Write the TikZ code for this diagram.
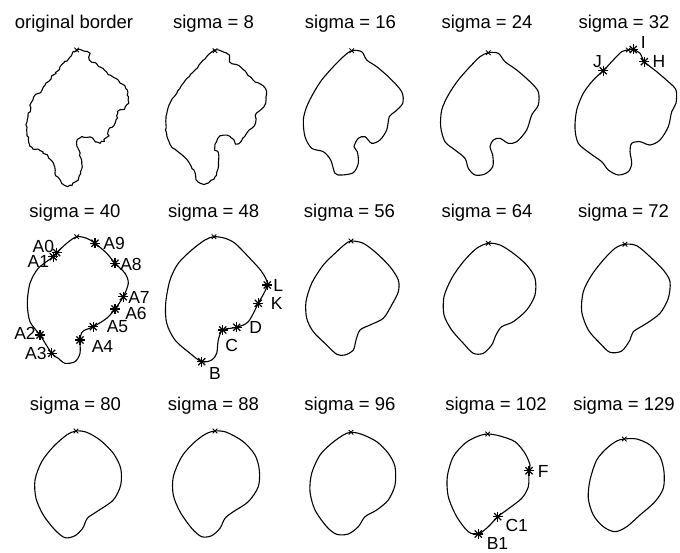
\documentclass[tikz,border=0pt]{standalone}
\usepackage{fontspec}
\setmainfont{Liberation Sans}
\usetikzlibrary{decorations.pathmorphing}
\begin{document}
\begin{tikzpicture}[x=1pt,y=-1pt,
 curve/.style={line width=1.1pt, line join=round},
 ttl/.style={anchor=base, inner sep=0pt, font=\fontsize{18.5}{20}\selectfont},
 lbl/.style={inner sep=0pt, text height=12.5pt, text depth=0pt, font=\fontsize{17.5}{19}\selectfont},
 astm/.style={inner sep=0pt, minimum size=12pt, path picture={\foreach \a in {0,45,90,135}{\draw[line width=1.25pt] (path picture bounding box.center) ++(\a:5pt) -- ++(\a+180:10pt);}}},
 xm/.style={inner sep=0pt, minimum size=8pt, path picture={\foreach \a in {45,135}{\draw[line width=0.9pt] (path picture bounding box.center) ++(\a:3.2pt) -- ++(\a+180:6.4pt);}}}
]
\useasboundingbox (0,0) rectangle (680,553);
\pgfmathsetseed{7}
% titles
\node[ttl] (t0) at (74,29) {original border};
\node[ttl] (t8) at (213.5,29) {sigma = 8};
\node[ttl] (t16) at (350.5,29) {sigma = 16};
\node[ttl] (t24) at (487,29) {sigma = 24};
\node[ttl] (t32) at (624,29) {sigma = 32};
\node[ttl] (t40) at (75,218) {sigma = 40};
\node[ttl] (t48) at (213.7,218) {sigma = 48};
\node[ttl] (t56) at (349.5,218) {sigma = 56};
\node[ttl] (t64) at (487,218) {sigma = 64};
\node[ttl] (t72) at (623.5,218) {sigma = 72};
\node[ttl] (t80) at (75.5,410) {sigma = 80};
\node[ttl] (t88) at (213.5,410) {sigma = 88};
\node[ttl] (t96) at (350,410) {sigma = 96};
\node[ttl] (t102) at (496,410) {sigma = 102};
\node[ttl] (t129) at (624,410) {sigma = 129};

% original border
\draw[curve, decorate, decoration={random steps, segment length=2.6pt, amplitude=1.3pt}]
 plot[smooth cycle] coordinates {(76.7,50) (88,52) (90,60) (100,67) (110,75) (120,83) (127,90) (128,100) (125,107) (118,113) (115,123) (110,128) (107,137) (100,143) (90,137) (82,137) (77,143) (80,153) (82,167) (78,180) (70,185) (62,183) (55,173) (53,163) (43,152) (32,147) (27,133) (28,117) (33,100) (42,90) (50,80) (60,67) (70,57)};
\node[xm] (x0) at (76.7,50) {};

% sigma 8
\draw[curve, decorate, decoration={random steps, segment length=3pt, amplitude=0.55pt}]
 plot[smooth cycle] coordinates {(215,50.7) (226.7,53.3) (230,61.7) (240,66.7) (253.3,80) (265,88.3) (266,100) (263.3,106.7) (256.7,113.3) (255,123.3) (246.7,133.3) (238.3,143.3) (230,136.7) (220,136.7) (215,146.7) (218.3,153.3) (218.3,166.7) (215,176.7) (206.7,183.3) (198.3,181.7) (195,173.3) (188.3,161.7) (180,153.3) (171.7,146.7) (166.7,133.3) (166,116.7) (170,103.3) (176.7,93.3) (183.3,83.3) (195,70) (206.7,56.7)};
\node[xm] (x8) at (215,50.7) {};

% sigma 16
\draw[curve] plot[smooth cycle] coordinates {(351.7,50.7) (361.7,51.7) (366.7,60) (376.7,66.7) (390,78.3) (401.7,91.7) (402.7,103.3) (395,111.7) (389.3,116.7) (386.7,130) (380,140) (371.7,143.3) (365,136.7) (358.3,138.3) (354,146.7) (357.3,151.7) (358.3,163.3) (353.3,172.7) (341.7,175) (335,173.3) (330.7,160) (323.3,151.7) (311.7,148.3) (305,136.7) (303.3,120) (306.7,106.7) (313.3,93.3) (321.7,80) (333.3,66.7) (343.3,56.7)};
\node[xm] (x16) at (351.7,50.7) {};

% sigma 24
\draw[curve] plot[smooth cycle] coordinates {(488.3,52.7) (498.3,53.3) (505,61.7) (516.7,70) (530,81.7) (538.3,91.7) (538.3,105) (531.7,115) (526.7,130) (516.7,141.7) (508.3,143.3) (500,138.3) (493.3,140) (490,146.7) (492.7,155) (492.7,166.7) (485,174) (475,175) (468.3,168.3) (465,158.3) (455,150) (445,141.7) (440.7,126.7) (441.7,110) (448.3,95) (458.3,80) (470,66.7) (480,56.7)};
\node[xm] (x24) at (488.3,52.7) {};

% sigma 32
\draw[curve] plot[smooth cycle] coordinates {(628.3,50) (633.3,49.5) (640,53.3) (644.3,61.7) (656.7,71.7) (668.3,81.7) (676,90) (676,103.3) (671.7,111.7) (668.3,126.7) (660,140) (650,145) (640,141.7) (631.7,143.3) (630,151.7) (631.7,163.3) (628.3,171.7) (618.3,175) (608.3,170) (601.7,161.7) (590,153.3) (578.3,143.3) (575,128.3) (576.7,110) (583.3,93.3) (593.3,80) (603.3,70.7) (613.3,60) (621.7,51.7)};
\node[xm] (x32) at (628.3,50) {};
\node[astm] (sI) at (633.3,49.5) {};
\node[astm] (sH) at (644.3,61.7) {};
\node[astm] (sJ) at (603.3,70.7) {};
\node[lbl] (lI) at (643.3,42.3) {I};
\node[lbl] (lH) at (659,60.8) {H};
\node[lbl] (lJ) at (597.5,61.7) {J};

% sigma 40
\draw[curve] plot[smooth cycle] coordinates {(76.7,236.7) (86.7,238.3) (95,243.3) (106.7,253.3) (115,263.3) (125,273.3) (128.3,283.3) (123.3,296.7) (115,309) (106.7,318.3) (93.3,326.7) (85,330) (81.5,333) (80,340) (80,353.3) (75,361.7) (65,363.3) (58.3,358.3) (51.7,353.3) (40,335) (30,321.7) (27.3,303.3) (30,283.3) (38.3,268.3) (53.3,256.7) (56.7,252.7) (66.7,243.3)};
\node[xm] (x40) at (76.7,236.7) {};
\node[astm] (sA0) at (56.7,252.7) {};
\node[astm] (sA1) at (53.3,256.7) {};
\node[astm] (sA2) at (40,335) {};
\node[astm] (sA3) at (51.7,353.3) {};
\node[astm] (sA4) at (80,340) {};
\node[astm] (sA5) at (93.3,326.7) {};
\node[astm] (sA6) at (115,309) {};
\node[astm] (sA7) at (123.3,296.7) {};
\node[astm] (sA8) at (115,263.3) {};
\node[astm] (sA9) at (95,243.3) {};
\node[lbl] (lA0) at (43.3,246.2) {A0};
\node[lbl] (lA1) at (38.3,261.7) {A1};
\node[lbl] (lA2) at (25,333.3) {A2};
\node[lbl] (lA3) at (35.8,353.3) {A3};
\node[lbl] (lA4) at (102.5,346.7) {A4};
\node[lbl] (lA5) at (117.5,325.8) {A5};
\node[lbl] (lA6) at (136,313) {A6};
\node[lbl] (lA7) at (139,297) {A7};
\node[lbl] (lA8) at (131,264.2) {A8};
\node[lbl] (lA9) at (114.2,243.3) {A9};

% sigma 48
\draw[curve] plot[smooth cycle] coordinates {(214,236.7) (225,238.3) (235,243.3) (248.3,256.7) (261.7,271.7) (267.3,285) (258.3,303.3) (248.3,321.7) (236.7,327.3) (222.7,330) (218.3,340) (216.7,353.3) (211.7,360) (201.7,361.7) (190,353.3) (175,340) (166.7,323.3) (165.7,303.3) (170,280) (178.3,263.3) (191.7,250) (205,240)};
\node[xm] (x48) at (214,236.7) {};
\node[astm] (sL) at (267.3,285) {};
\node[astm] (sK) at (258.3,303.3) {};
\node[astm] (sD) at (236.7,327.3) {};
\node[astm] (sC) at (222.7,330) {};
\node[astm] (sB) at (201.7,361.7) {};
\node[lbl] (lL) at (278.3,285) {L};
\node[lbl] (lK) at (276.7,303.3) {K};
\node[lbl] (lD) at (255.8,327.5) {D};
\node[lbl] (lC) at (231.7,345) {C};
\node[lbl] (lB) at (215,373.3) {B};

% sigma 56
\draw[curve] plot[smooth cycle] coordinates {(351,241) (363.3,243.3) (376.7,253.3) (390,266.7) (398.3,280) (398.3,291.7) (391.7,305) (383.3,318.3) (370,325) (360,330) (356,340) (353.3,350) (345,355) (336.7,354.3) (326.7,345) (313.3,331.7) (306.7,318.3) (306,301.7) (311.7,283.3) (323.3,265) (336.7,251.7) (345,244.3)};
\node[xm] (x56) at (351,241) {};

% sigma 64
\draw[curve] plot[smooth cycle] coordinates {(488.3,243.3) (500,245) (513.3,253.3) (526.7,265) (535,278.3) (535,295) (526.7,310) (513.3,321.7) (501.7,326.7) (496,335) (491.7,345) (483.3,353.3) (473.3,353.3) (463.3,343.3) (451.7,330) (444,315) (444,296.7) (451.7,278.3) (463.3,261.7) (476.7,248.3)};
\node[xm] (x64) at (488.3,243.3) {};

% sigma 72
\draw[curve] plot[smooth cycle] coordinates {(625,244.3) (636.7,245.7) (650,256.7) (663.3,270) (670,281.7) (668.3,298.3) (660,313.3) (646.7,323.3) (633.3,331.7) (630,340) (621.7,351) (610,352.3) (600,343.3) (588.3,330) (581.7,311.7) (583.3,291.7) (591.7,275) (603.3,260) (615,248.3)};
\node[xm] (x72) at (625,244.3) {};

% sigma 80
\draw[curve] plot[smooth cycle] coordinates {(76,431) (86.7,432.3) (100,440) (113.3,453.3) (120.7,468.3) (120.7,485) (113.3,500) (96.7,511.7) (87.3,518.3) (82.7,528.3) (75,535.7) (65,537.7) (55,530) (43.3,515) (36,498.3) (35,480) (41.7,461.7) (53.3,446.7) (66.7,435)};
\node[xm] (x80) at (76,431) {};

% sigma 88
\draw[curve] plot[smooth cycle] coordinates {(215,431) (226.7,432.3) (243.3,441.7) (255,455) (259.3,470) (258.3,486.7) (248.3,501.7) (233.3,511.7) (225,518.3) (220,528.3) (211.7,535.7) (201.7,536.7) (191.7,528.3) (180,511.7) (173.3,495) (173.3,476.7) (181.7,456.7) (193.3,443.3) (205,434.3)};
\node[xm] (x88) at (215,431) {};

% sigma 96
\draw[curve] plot[smooth cycle] coordinates {(351,432.3) (361.7,434.3) (376.7,441.7) (388.3,453.3) (395,466.7) (395,485) (388.3,500) (376.7,510) (365,516.7) (358.3,526.7) (348.3,534) (336.7,534.3) (326.7,526.7) (315,510) (310,491.7) (311.7,473.3) (320,455) (331.7,443.3) (343.3,435)};
\node[xm] (x96) at (351,432.3) {};

% sigma 102
\draw[curve] plot[smooth cycle] coordinates {(487.7,434) (500,436) (515,441.7) (525,453.3) (530,465) (529,470.7) (528.3,486.7) (521.7,498.3) (506.7,510) (497.7,516.7) (488.3,526.7) (478.3,534) (468.3,531.7) (456.7,516.7) (448.3,496.7) (447.3,476.7) (453.3,456.7) (465,443.3) (476.7,436.7)};
\node[xm] (x102) at (487.7,434) {};
\node[astm] (sF) at (529,470.7) {};
\node[astm] (sC1) at (497.7,516.7) {};
\node[astm] (sB1) at (478.3,534) {};
\node[lbl] (lF) at (543.3,470.8) {F};
\node[lbl] (lC1) at (516.7,525) {C1};
\node[lbl] (lB1) at (497.5,543.3) {B1};

% sigma 129
\draw[curve] plot[smooth cycle] coordinates {(624.3,439) (636.7,439) (650,445) (660,456.7) (664,471.7) (663.3,488.3) (655,501.7) (640,515) (626.7,526.7) (615,531.7) (603.3,526.7) (593.3,515) (588.3,498.3) (590,480) (596.7,460) (606.7,448.3) (616.7,441)};
\node[xm] (x129) at (624.3,439) {};
\end{tikzpicture}
\end{document}
